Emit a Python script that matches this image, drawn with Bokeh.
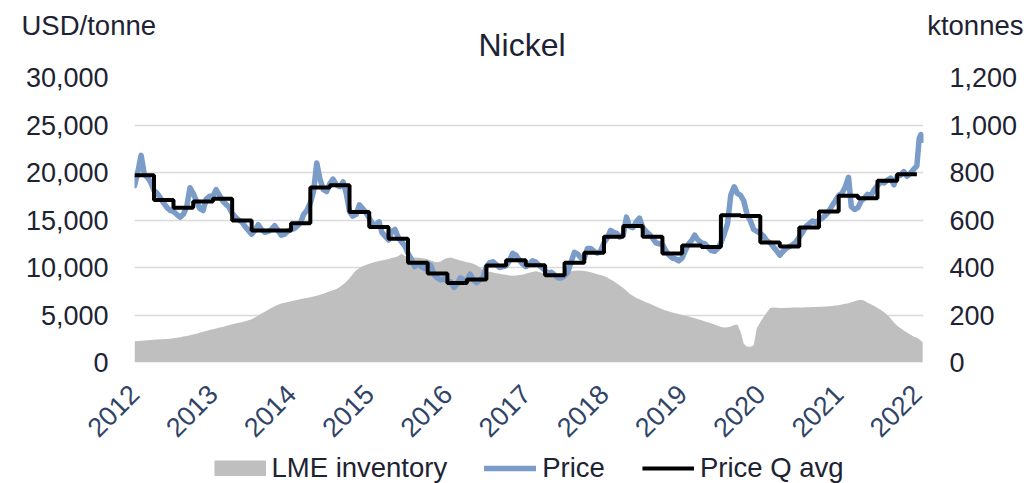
from math import pi

import pandas as pd
from bokeh.embed import file_html
from bokeh.layouts import column
from bokeh.models import (DatetimeTickFormatter, FixedTicker, Legend,
                          LegendItem, LinearAxis, NumeralTickFormatter, Range1d, Title)
from bokeh.plotting import figure
from bokeh.resources import INLINE

# LME nickel cash price, USD/tonne, sampled on the 1st and 16th of each month
price_2012 = [18600, 20000, 21800, 19800, 19500, 19000, 18100, 17800, 17300, 16800, 16300, 16000,
              15900, 15600, 15300, 15600, 16400, 18400, 17800, 17000, 16200, 16000, 17200, 17500]
price_2013 = [17500, 18200, 17600, 17000, 16700, 16400, 15700, 15300, 15000, 14800, 14300, 13900,
              13500, 13900, 14500, 14000, 13700, 13800, 14000, 14400, 13900, 13400, 13500, 13800]
price_2014 = [14000, 14100, 14400, 14800, 15600, 16000, 16800, 18000, 21000, 19300, 18200, 18000,
              18800, 19300, 18700, 18500, 19000, 17800, 15900, 15400, 15600, 16600, 16200, 15800]
price_2015 = [15200, 14600, 14500, 14800, 13700, 13300, 12900, 13800, 14000, 13200, 12700, 12300,
              11500, 10900, 10100, 10400, 10100, 9900, 10400, 10200, 9200, 8900, 8700, 8800]
price_2016 = [8600, 8500, 7900, 8300, 8900, 8700, 8600, 9300, 8700, 8400, 8700, 9000,
              10100, 10500, 10600, 10300, 10000, 10100, 10200, 10700, 11500, 11300, 10800, 10400]
price_2017 = [10100, 10300, 10700, 10600, 10300, 10000, 9700, 9400, 9500, 9200, 8900, 8900,
              9100, 9500, 10600, 11600, 11400, 11000, 11000, 12000, 12000, 11700, 11500, 11700]
price_2018 = [12600, 13100, 13900, 13700, 13600, 13200, 13400, 15300, 14300, 14200, 14800, 15200,
              14200, 13800, 13500, 13100, 12600, 12500, 12400, 11800, 11300, 11000, 10900, 10700]
price_2019 = [11000, 11800, 12500, 12900, 13400, 12900, 12600, 12500, 12200, 11800, 11700, 12000,
              12600, 13500, 14600, 17600, 18500, 17800, 17600, 17000, 15500, 14900, 14000, 13800]
price_2020 = [13600, 13300, 12800, 12600, 12200, 11800, 11300, 11700, 12000, 12200, 12400, 12700,
              13200, 13700, 14300, 14600, 14900, 14700, 15000, 15200, 15500, 15900, 16500, 17000]
price_2021 = [17600, 17800, 18500, 19500, 16400, 16100, 16300, 17000, 17300, 17700, 17600, 18200,
              18600, 19000, 18900, 19200, 19400, 18700, 19600, 19700, 20100, 19600, 19900, 20300]
price_2022 = [20700, 23600, 24000, 23400]

# LME nickel inventory, ktonnes, same sampling
stock_2012 = [90, 91, 92, 93, 94, 95, 96, 97, 98, 98, 99, 100,
              102, 104, 106, 109, 112, 115, 118, 121, 125, 129, 133, 137]
stock_2013 = [140, 143, 147, 150, 154, 157, 161, 164, 167, 170, 174, 178,
              182, 190, 198, 206, 214, 222, 230, 237, 243, 248, 252, 255]
stock_2014 = [258, 261, 264, 267, 269, 272, 275, 278, 281, 285, 290, 295,
              300, 304, 310, 318, 328, 340, 355, 372, 388, 398, 405, 411]
stock_2015 = [416, 420, 424, 427, 430, 433, 436, 440, 443, 447, 458, 448,
              445, 443, 442, 441, 440, 438, 435, 430, 424, 422, 425, 435]
stock_2016 = [440, 442, 438, 434, 430, 426, 422, 420, 416, 410, 400, 390,
              385, 382, 379, 376, 374, 371, 369, 366, 365, 366, 368, 370]
stock_2017 = [374, 378, 381, 384, 382, 378, 372, 366, 360, 355, 356, 362,
              372, 380, 384, 386, 387, 386, 385, 383, 380, 376, 372, 368]
stock_2018 = [364, 358, 350, 342, 334, 324, 314, 302, 290, 281, 272, 266,
              260, 254, 248, 242, 236, 230, 224, 219, 215, 211, 207, 204]
stock_2019 = [200, 197, 194, 190, 186, 182, 178, 174, 170, 165, 160, 155,
              150, 147, 148, 152, 158, 160, 130, 78, 66, 66, 72, 145]
stock_2020 = [170, 192, 212, 230, 232, 231, 230, 230, 231, 231, 232, 232,
              232, 232, 233, 233, 234, 234, 235, 235, 236, 237, 238, 240]
stock_2021 = [241, 244, 247, 250, 254, 258, 262, 264, 260, 252, 245, 238,
              230, 222, 212, 200, 185, 168, 155, 145, 135, 126, 118, 110]
stock_2022 = [104, 98, 92, 86]

# Quarterly average price, Q1 2012 .. Q4 2021
quarter_avg = [19720, 17110, 16300, 16940,
               17250, 14960, 13900, 13900,
               14650, 18420, 18660, 15850,
               14260, 13030, 10490, 9370,
               8380, 8730, 10210, 10770,
               10250, 9190, 10490, 11550,
               13240, 14370, 13240, 11480,
               12320, 12150, 15490, 15430,
               12620, 12200, 14200, 15890,
               17540, 17300, 19120, 19820]

year_ticks = list(range(2012, 2023))
tail_days = ["2022-01-01", "2022-01-12", "2022-01-20", "2022-01-28"]

price = (price_2012 + price_2013 + price_2014 + price_2015 + price_2016 + price_2017
         + price_2018 + price_2019 + price_2020 + price_2021 + price_2022)
stock = (stock_2012 + stock_2013 + stock_2014 + stock_2015 + stock_2016 + stock_2017
         + stock_2018 + stock_2019 + stock_2020 + stock_2021 + stock_2022)

dates = [pd.Timestamp(y, m, d) for y in range(2012, 2022) for m in range(1, 13) for d in (1, 16)]
dates += [pd.Timestamp(d) for d in tail_days]

q_starts = [pd.Timestamp(y, m, 1) for y in range(2012, 2022) for m in (1, 4, 7, 10)]
q_x = q_starts + [pd.Timestamp(2022, 1, 1)]
q_y = quarter_avg + [quarter_avg[-1]]

FONT = "Liberation Sans"
TEXT = "#1d2332"
YEAR_TEXT = "#2f4467"
GRID = "#d9d9d9"
INV_COLOR = "#bfbfbf"
PRICE_COLOR = "#7b9bc8"

p = figure(width=1030, height=452, x_axis_type="datetime",
           x_range=Range1d(pd.Timestamp("2012-01-01"), pd.Timestamp("2022-02-01")),
           y_range=Range1d(0, 30000),
           output_backend="svg", toolbar_location=None,
           min_border_left=134, min_border_right=107,
           min_border_top=77, min_border_bottom=90)
p.title.visible = False
p.outline_line_color = None
p.extra_y_ranges = {"stock": Range1d(0, 1200)}

# grid
p.xgrid.visible = False
p.ygrid.ticker = FixedTicker(ticks=list(range(0, 30001, 5000)))
p.ygrid.grid_line_color = GRID
p.ygrid.grid_line_width = 1.5

# left axis
ly = p.yaxis[0]
ly.ticker = FixedTicker(ticks=list(range(0, 30001, 5000)))
ly.formatter = NumeralTickFormatter(format="0,0")

# right axis
ry = LinearAxis(y_range_name="stock",
                ticker=FixedTicker(ticks=list(range(0, 1201, 200))),
                formatter=NumeralTickFormatter(format="0,0"))
p.add_layout(ry, "right")

# bottom axis with years
bx = p.xaxis[0]
bx.ticker = FixedTicker(ticks=[pd.Timestamp(y, 1, 1).value // 10**6 for y in year_ticks])
bx.formatter = DatetimeTickFormatter(years="%Y", months="%Y", days="%Y", hours="%Y",
                                     hourmin="%Y", minutes="%Y", minsec="%Y",
                                     seconds="%Y", milliseconds="%Y", microseconds="%Y")
bx.major_label_orientation = pi / 4

for ax in (ly, ry, bx):
    ax.axis_line_color = None
    ax.major_tick_line_color = None
    ax.minor_tick_line_color = None
    ax.major_tick_out = 0
    ax.major_tick_in = 0
    ax.major_label_text_font = FONT
    ax.major_label_text_font_size = "27px"
    ax.major_label_text_color = TEXT
    ax.major_label_standoff = 26
bx.major_label_text_color = YEAR_TEXT
bx.major_label_standoff = 27

# series
p.varea(x=dates, y1=0, y2=stock, y_range_name="stock", fill_color=INV_COLOR)
p.line(x=dates, y=price, line_color=PRICE_COLOR, line_width=5.5,
       line_join="round", line_cap="round")
p.step(x=q_x, y=q_y, mode="after", line_color="black", line_width=4)

# header rows, stacked upwards from the plot area
p.add_layout(Title(text=" ", text_font_size="10px", standoff=0), "above")
p.add_layout(Title(text="Nickel", align="left", offset=344, vertical_align="middle",
                   standoff=1, text_font=FONT, text_font_size="32px",
                   text_font_style="normal", text_color=TEXT), "above")
p.add_layout(Title(text="USD/tonne", align="left", offset=-113, vertical_align="middle",
                   standoff=-33, text_font=FONT, text_font_size="27.5px",
                   text_font_style="normal", text_color=TEXT), "above")
p.add_layout(Title(text="ktonnes", align="right", offset=-100, vertical_align="middle",
                   standoff=-33, text_font=FONT, text_font_size="27.5px",
                   text_font_style="normal", text_color=TEXT), "above")

# legend strip under the chart; its key glyphs sit outside the strip's visible range
foot = figure(width=1030, height=31, x_range=Range1d(0, 1), y_range=Range1d(0, 1),
              output_backend="svg", toolbar_location=None,
              x_axis_location=None, y_axis_location=None,
              min_border_left=134, min_border_right=107, min_border_top=0, min_border_bottom=0)
foot.title.visible = False
foot.outline_line_color = None
foot.xgrid.visible = False
foot.ygrid.visible = False
off_x = [5, 6]
off_y = [5, 5]
key_inv = foot.line(x=off_x, y=off_y, line_color=INV_COLOR, line_width=16, line_cap="butt")
key_price = foot.line(x=off_x, y=off_y, line_color=PRICE_COLOR, line_width=5.5,
                      line_cap="round")
key_q = foot.line(x=off_x, y=off_y, line_color="black", line_width=4, line_cap="butt")

series_legend = Legend(items=[LegendItem(label="LME inventory", renderers=[key_inv]),
                              LegendItem(label="Price", renderers=[key_price]),
                              LegendItem(label="Price Q avg", renderers=[key_q])],
                       orientation="horizontal", location="center",
                       glyph_width=52, glyph_height=16,
                       label_standoff=6, spacing=37,
                       padding=0, margin=0, border_line_color=None,
                       background_fill_alpha=0,
                       label_text_font=FONT, label_text_font_size="27.5px",
                       label_text_color=TEXT)
foot.add_layout(series_legend, "center")

open("out.html", "w").write(file_html(column(p, foot, spacing=0), INLINE))
